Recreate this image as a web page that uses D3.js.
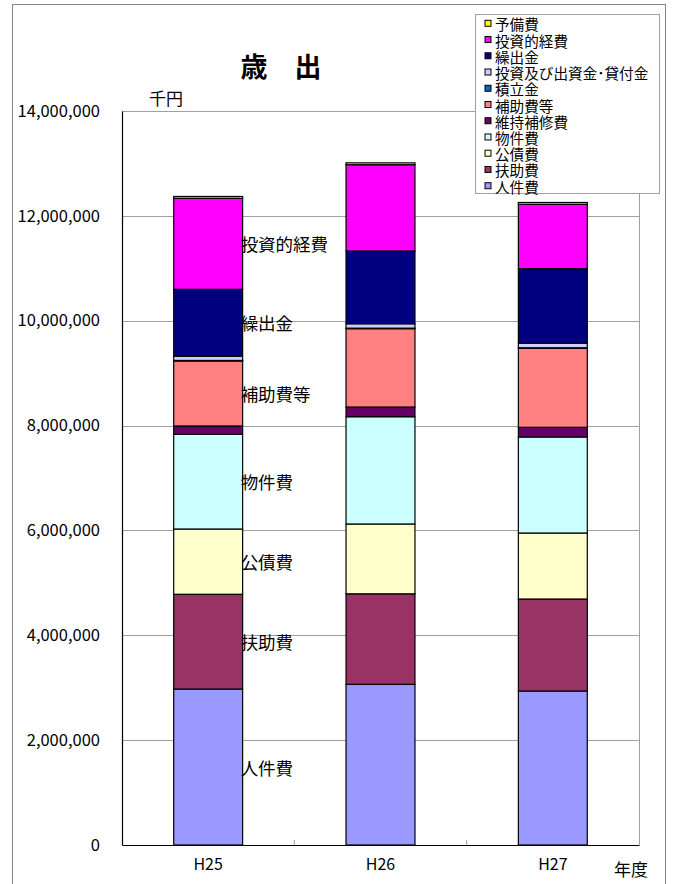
<!DOCTYPE html>
<html>
<head>
<meta charset="utf-8">
<script src="https://cdn.jsdelivr.net/npm/d3@7/dist/d3.min.js"></script>
<style>
  html, body { margin: 0; padding: 0; background: #fff; }
  svg { display: block; }
  text { font-family: "Noto Sans CJK JP", "Noto Sans", sans-serif; fill: #000; }
</style>
</head>
<body>
<svg id="chart" width="674" height="884"></svg>
<script>
// 年度 (fiscal years)
const years = ["H25", "H26", "H27"];

// 費目, stacked bottom to top
const seriesNames = ["人件費", "扶助費", "公債費", "物件費", "維持補修費", "補助費等",
  "積立金", "投資及び出資金･貸付金", "繰出金", "投資的経費", "予備費"];

// 千円, one value per year (H25, H26, H27)
const 人件費 = [2975000, 3065000, 2937000];
const 扶助費 = [1807000, 1726000, 1755000];
const 公債費 = [1245000, 1332000, 1259000];
const 物件費 = [1806000, 2046000, 1831000];
const 維持補修費 = [159000, 185000, 185000];
const 補助費等 = [1240000, 1494000, 1507000];
const 積立金 = [10000, 10000, 10000];
const 投資及び出資金貸付金 = [82000, 84000, 88000];
const 繰出金 = [1275000, 1388000, 1420000];
const 投資的経費 = [1736000, 1646000, 1228000];
const 予備費 = [35000, 35000, 35000];

const seriesValues = [人件費, 扶助費, 公債費, 物件費, 維持補修費, 補助費等,
  積立金, 投資及び出資金貸付金, 繰出金, 投資的経費, 予備費];

const seriesColors = ["#9999FF", "#993366", "#FFFFCC", "#CCFFFF", "#660066", "#FF8080",
  "#0066CC", "#CCCCFF", "#000080", "#FF00FF", "#FFFF00"];

// legend order, top to bottom
const legendOrder = ["予備費", "投資的経費", "繰出金", "投資及び出資金･貸付金", "積立金",
  "補助費等", "維持補修費", "物件費", "公債費", "扶助費", "人件費"];

// series named beside the first bar
const labeledSeries = ["人件費", "扶助費", "公債費", "物件費", "補助費等", "繰出金", "投資的経費"];

const yTicks = [0, 2000000, 4000000, 6000000, 8000000, 10000000, 12000000, 14000000];

const svg = d3.select("#chart");

// plot area
const plot = { left: 122, right: 639, top: 111, bottom: 845 };

const x = d3.scaleBand()
  .domain(years)
  .range([plot.left, plot.right])
  .paddingInner(0.6)
  .paddingOuter(0.3);

const y = d3.scaleLinear()
  .domain([0, 14000000])
  .range([plot.bottom, plot.top]);

// outer chart frame
svg.append("rect")
  .attr("x", 12.5).attr("y", 4.5)
  .attr("width", 653).attr("height", 900)
  .attr("fill", "none").attr("stroke", "#868686").attr("stroke-width", 1);

// gridlines and plot border
svg.append("g")
  .selectAll("line")
  .data(yTicks.filter(d => d > 0))
  .join("line")
  .attr("x1", plot.left).attr("x2", plot.right)
  .attr("y1", d => Math.round(y(d)) + 0.5).attr("y2", d => Math.round(y(d)) + 0.5)
  .attr("stroke", "#a0a0a0").attr("stroke-width", 1);

svg.append("line")
  .attr("x1", plot.right + 0.5).attr("x2", plot.right + 0.5)
  .attr("y1", plot.top).attr("y2", plot.bottom)
  .attr("stroke", "#a0a0a0");

// stacked data
const table = years.map((yr, i) => {
  const row = { year: yr };
  seriesNames.forEach((s, k) => { row[s] = seriesValues[k][i]; });
  return row;
});

const stacked = d3.stack().keys(seriesNames)(table);

const color = d3.scaleOrdinal().domain(seriesNames).range(seriesColors);

svg.append("g")
  .selectAll("g")
  .data(stacked)
  .join("g")
  .attr("fill", d => color(d.key))
  .selectAll("rect")
  .data(d => d)
  .join("rect")
  .attr("x", d => x(d.data.year))
  .attr("width", x.bandwidth())
  .attr("y", d => y(d[1]))
  .attr("height", d => y(d[0]) - y(d[1]))
  .attr("stroke", "#000")
  .attr("stroke-width", 1.2);

// axes
const yAxis = d3.axisLeft(y)
  .tickValues(yTicks)
  .tickFormat(d3.format(","))
  .tickSize(0)
  .tickPadding(22);

const gy = svg.append("g")
  .attr("transform", `translate(${plot.left},0)`)
  .call(yAxis);
gy.select(".domain").attr("stroke", "#000").attr("stroke-width", 1.2);
gy.selectAll("text")
  .style("font-family", "\"Noto Sans CJK JP\", sans-serif")
  .style("font-size", "16.5px");

const gx = svg.append("g")
  .attr("transform", `translate(0,${plot.bottom})`)
  .call(d3.axisBottom(x).tickSize(0).tickPadding(14));
gx.select(".domain").attr("stroke", "#000").attr("stroke-width", 1.2);
gx.selectAll("text")
  .style("font-family", "\"Noto Sans CJK JP\", sans-serif")
  .style("font-size", "16px");

// small inward ticks between categories
svg.append("g")
  .selectAll("line")
  .data(years.slice(1))
  .join("line")
  .attr("x1", d => x(d) - x.step() * x.paddingInner() / 2)
  .attr("x2", d => x(d) - x.step() * x.paddingInner() / 2)
  .attr("y1", plot.bottom - 5).attr("y2", plot.bottom)
  .attr("stroke", "#a0a0a0");

// series names beside the first bar
const firstYear = years[0];
svg.append("g")
  .selectAll("text")
  .data(stacked.filter(s => labeledSeries.includes(s.key)))
  .join("text")
  .attr("x", x(firstYear) + x.bandwidth() - 2)
  .attr("y", s => { const p = s[0]; return (y(p[0]) + y(p[1])) / 2; })
  .attr("dominant-baseline", "central")
  .style("font-size", "17.5px")
  .text(s => s.key);

// title and unit captions
svg.append("text")
  .attr("x", 281).attr("y", 65)
  .attr("text-anchor", "middle")
  .attr("dominant-baseline", "central")
  .style("font-size", "27px")
  .style("font-weight", "bold")
  .text("歳　出");

svg.append("text")
  .attr("x", 166).attr("y", 97)
  .attr("text-anchor", "middle")
  .attr("dominant-baseline", "central")
  .style("font-size", "17px")
  .text("千円");

svg.append("text")
  .attr("x", 631).attr("y", 868)
  .attr("text-anchor", "middle")
  .attr("dominant-baseline", "central")
  .style("font-size", "17px")
  .text("年度");

// legend
const legend = svg.append("g");
legend.append("rect")
  .attr("x", 475.5).attr("y", 14.5)
  .attr("width", 184).attr("height", 179)
  .attr("fill", "#fff").attr("stroke", "#a0a0a0");

const li = legend.selectAll("g.item")
  .data(legendOrder)
  .join("g")
  .attr("class", "item")
  .attr("transform", (d, i) => `translate(0,${23.3 + i * 16.24})`);

li.append("rect")
  .attr("x", 485).attr("y", -3)
  .attr("width", 6).attr("height", 6)
  .attr("fill", d => color(d))
  .attr("stroke", "#000").attr("stroke-width", 1);

li.append("text")
  .attr("x", 495).attr("y", 0.5)
  .attr("dominant-baseline", "central")
  .style("font-size", "14.6px")
  .text(d => d);
</script>
</body>
</html>
